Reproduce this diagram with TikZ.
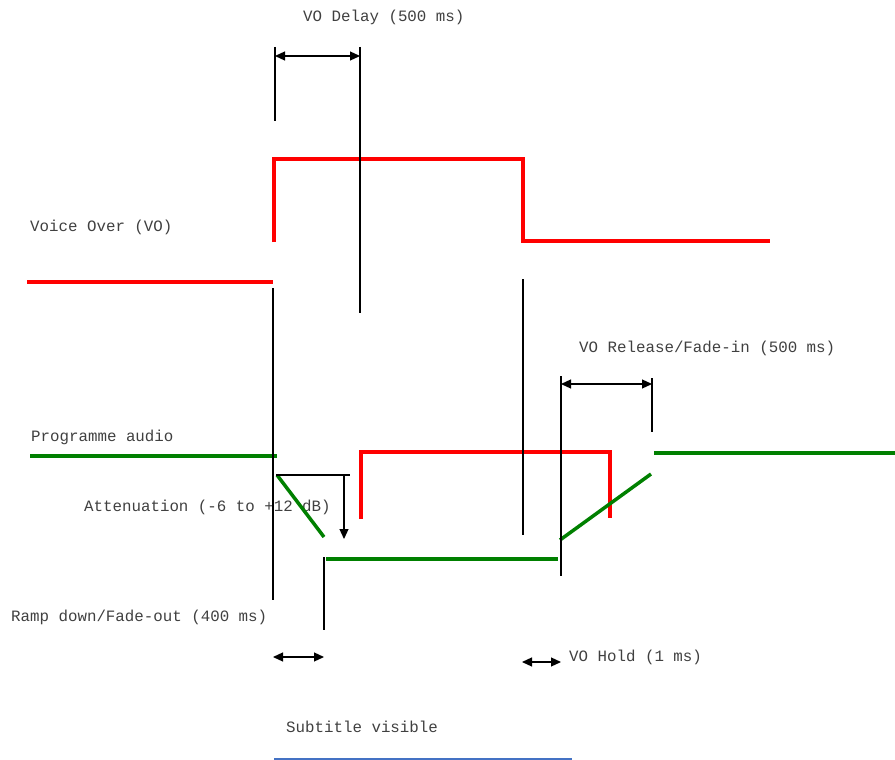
\documentclass[tikz,border=0pt]{standalone}
\usepackage{fontspec}
\setmonofont{Liberation Mono}
\usetikzlibrary{arrows.meta}

\begin{document}
\begin{tikzpicture}[x=1pt, y=-1pt,
    label/.style={anchor=west, inner sep=0pt, font=\ttfamily\fontsize{15.8}{18}\selectfont, text=black!75},
    vosig/.style={draw=red, line width=3.5pt},
    progsig/.style={draw=green!50!black, line width=3.5pt},
    marker/.style={draw=black, line width=1.2pt},
    span/.style={draw=black, line width=1.2pt, {Triangle[length=10pt,width=9pt]}-{Triangle[length=10pt,width=9pt]}}
]
    \useasboundingbox (0,0) rectangle (895,760);

    % labels
    \node[label] (delay) at (303,17) {VO Delay (500 ms)};
    \node[label] (vo) at (30,227) {Voice Over (VO)};
    \node[label] (release) at (579,348) {VO Release/Fade-in (500 ms)};
    \node[label] (prog) at (31,437) {Programme audio};
    \node[label] (atten) at (84,507) {Attenuation (-6 to +12 dB)};
    \node[label] (ramp) at (11,617) {Ramp down/Fade-out (400 ms)};
    \node[label] (hold) at (569,657) {VO Hold (1 ms)};
    \node[label] (subtitle) at (286,727) {Subtitle visible};

    % voice over signal
    \draw[vosig] (27,282) -- (273,282);
    \draw[vosig] (274,242) -- (274,159) -- (523,159) -- (523,241) -- (770,241);
    \draw[vosig] (361,519) -- (361,452) -- (610,452) -- (610,518);

    % programme audio
    \draw[progsig] (30,456) -- (277,456);
    \draw[progsig] (277,475) -- (324,537);
    \draw[progsig] (326,559) -- (558,559);
    \draw[progsig] (560,540) -- (651,474);
    \draw[progsig] (654,453) -- (895,453);

    % time markers
    \draw[marker] (275,47) -- (275,121);
    \draw[marker] (360,47) -- (360,313);
    \draw[marker] (273,288) -- (273,600);
    \draw[marker] (523,279) -- (523,535);
    \draw[marker] (561,376) -- (561,576);
    \draw[marker] (652,378) -- (652,432);
    \draw[marker] (324,557) -- (324,630);
    \draw[marker] (276,475) -- (350,475);

    % durations
    \coordinate (d1) at (275,56);  \coordinate (d2) at (360,56);
    \coordinate (r1) at (561,384); \coordinate (r2) at (652,384);
    \coordinate (f1) at (273,657); \coordinate (f2) at (324,657);
    \coordinate (h1) at (522,662); \coordinate (h2) at (561,662);
    \coordinate (a1) at (344,475); \coordinate (a2) at (344,539);
    \draw[span] (d1) -- (d2);
    \draw[span] (r1) -- (r2);
    \draw[span] (f1) -- (f2);
    \draw[span] (h1) -- (h2);
    \draw[marker, -{Triangle[length=10pt,width=9pt]}] (a1) -- (a2);

    % subtitle bar
    \draw[draw={rgb,255:red,68;green,114;blue,196}, line width=1.5pt] (274,759) -- (572,759);
\end{tikzpicture}
\end{document}
